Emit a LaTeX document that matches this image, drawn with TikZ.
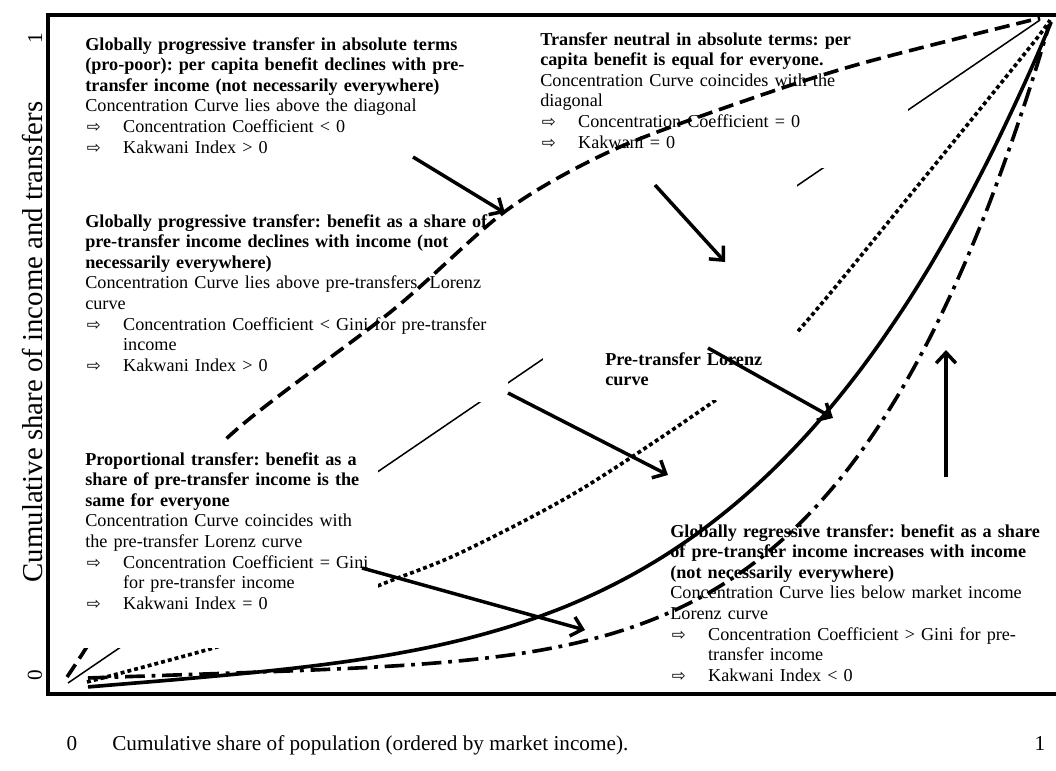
\documentclass[tikz,border=0pt]{standalone}
\usepackage{fontspec}
\setmainfont{Liberation Serif}
\newfontfamily\arrowfont{DejaVu Sans}
\usetikzlibrary{arrows.meta}
\frenchspacing

\newcommand{\arrowsym}{{\arrowfont\fontsize{11}{11}\selectfont ⇨}}
\newcommand{\arrowitem}{\makebox[25pt][l]{\hspace{1pt}\arrowsym}}
\newcommand{\contline}{\hspace*{25pt}}

\tikzset{
  note/.style={anchor=north west, inner sep=0pt, align=left, text width=#1,
    font=\fontsize{12}{13.6}\selectfont},
  mask/.style={fill=white},
  pointer/.style={-{Straight Barb[length=7pt,width=13pt]}, line width=2.3pt},
  axislabel/.style={inner sep=0pt, font=\fontsize{14}{14}\selectfont}
}

\begin{document}
\begin{tikzpicture}[x=0.66pt, y=-0.66pt]
\useasboundingbox (0,0) rectangle (1056,771);
\clip (0,0) rectangle (1056,771);

% diagonal and dotted curve sit under the text boxes
\draw[line width=1pt] (68,683) -- (1040,20);
\draw[line width=2.4pt, dash pattern=on 2.6pt off 2pt] plot[smooth] coordinates
  {(87,682) (217,647) (300,620) (380,585) (460,553) (580,490) (720,397) (790,340) (920,183) (1030,47) (1050,20)};

% white text boxes
\fill[mask] (80,185) rectangle (508,402);
\fill[mask] (535,20) rectangle (908,168);
\fill[mask] (543,170) rectangle (797,400);

\node[note=300pt] (absolute) at (85,37)
  {\textbf{Globally progressive transfer in absolute terms}\\
   \textbf{(pro-poor): per capita benefit declines with pre-}\\
   \textbf{transfer income (not necessarily everywhere)}\\
   Concentration Curve lies above the diagonal\\
   \arrowitem Concentration Coefficient < 0\\
   \arrowitem Kakwani Index > 0};
\node[note=250pt] (neutral) at (540,32)
  {\textbf{Transfer neutral in absolute terms: per}\\
   \textbf{capita benefit is equal for everyone.}\\
   Concentration Curve coincides with the\\
   diagonal\\
   \arrowitem Concentration Coefficient = 0\\
   \arrowitem Kakwani = 0};
\node[note=290pt] (share) at (85,214)
  {\textbf{Globally progressive transfer: benefit as a share of}\\
   \textbf{pre-transfer income declines with income (not}\\
   \textbf{necessarily everywhere)}\\
   Concentration Curve lies above pre-transfers~ Lorenz\\
   curve\\
   \arrowitem Concentration Coefficient < Gini for pre-transfer\\
   \contline income\\
   \arrowitem Kakwani Index > 0};
\node[note=150pt] (lorenz) at (605,352)
  {\textbf{Pre-transfer Lorenz}\\
   \textbf{curve}};
\node[note=260pt] (regressive) at (670,524)
  {\textbf{Globally regressive transfer: benefit as a share}\\
   \textbf{of pre-transfer income increases with income}\\
   \textbf{(not necessarily everywhere)}\\
   Concentration Curve lies below market income\\
   Lorenz curve\\
   \arrowitem Concentration Coefficient > Gini for pre-\\
   \contline transfer income\\
   \arrowitem Kakwani Index < 0};

% concentration curve above the diagonal
\draw[line width=2.4pt, dash pattern=on 10pt off 4.6pt] plot[smooth] coordinates
  {(67,677) (88,645) (150,545) (225,440) (393,310) (507,210) (613,150) (747,100) (863,63) (1040,18)};

\fill[mask] (80,440) rectangle (378,648);
\node[note=220pt] (proportional) at (85,452)
  {\textbf{Proportional transfer: benefit as a}\\
   \textbf{share of pre-transfer income is the}\\
   \textbf{same for everyone}\\
   Concentration Curve coincides with\\
   the pre-transfer Lorenz curve\\
   \arrowitem Concentration Coefficient = Gini\\
   \contline for pre-transfer income\\
   \arrowitem Kakwani Index = 0};

% Lorenz curve and regressive curve
\draw[line width=2.4pt] plot[smooth, domain=0.001:1, samples=80]
  ({87+965*\x}, {687-667*(0.12*\x+0.88*\x^3.8)});
\draw[line width=2.4pt, dash pattern=on 13pt off 4.5pt on 2.5pt off 4.5pt] plot[smooth, domain=0.001:1, samples=80]
  ({87+963*\x}, {678-656*(0.05*\x+0.95*\x^5.2)});

% pointers from the boxes to the curves
\coordinate (p1s) at (413,157);  \coordinate (p1e) at (505,213);
\coordinate (p2s) at (655,185);  \coordinate (p2e) at (725,262);
\coordinate (p3s) at (508,393);  \coordinate (p3e) at (668,475);
\coordinate (p4s) at (708,348);  \coordinate (p4e) at (833,418);
\coordinate (p5s) at (946,477);  \coordinate (p5e) at (946,350);
\coordinate (p6s) at (362,568);  \coordinate (p6e) at (585,630);
\draw[pointer] (p1s) -- (p1e);
\draw[pointer] (p2s) -- (p2e);
\draw[pointer] (p3s) -- (p3e);
\draw[pointer] (p4s) -- (p4e);
\draw[pointer] (p5s) -- (p5e);
\draw[pointer] (p6s) -- (p6e);

% frame, open on the right
\draw[line width=2.6pt] (1060,15) -- (48,15) -- (48,694) -- (1060,694);

% axis labels
\node[axislabel, rotate=90, font=\fontsize{19}{19}\selectfont] (yname) at (33,342) {Cumulative share of income and transfers};
\node[axislabel, rotate=90] (yone) at (35,38) {1};
\node[axislabel, rotate=90] (yzero) at (35,675) {0};
\node[axislabel, anchor=base] (xzero) at (72,750) {0};
\node[axislabel, anchor=base west] (xname) at (112,750) {Cumulative share of population (ordered by market income).};
\node[axislabel, anchor=base] (xone) at (1040,750) {1};
\end{tikzpicture}
\end{document}
